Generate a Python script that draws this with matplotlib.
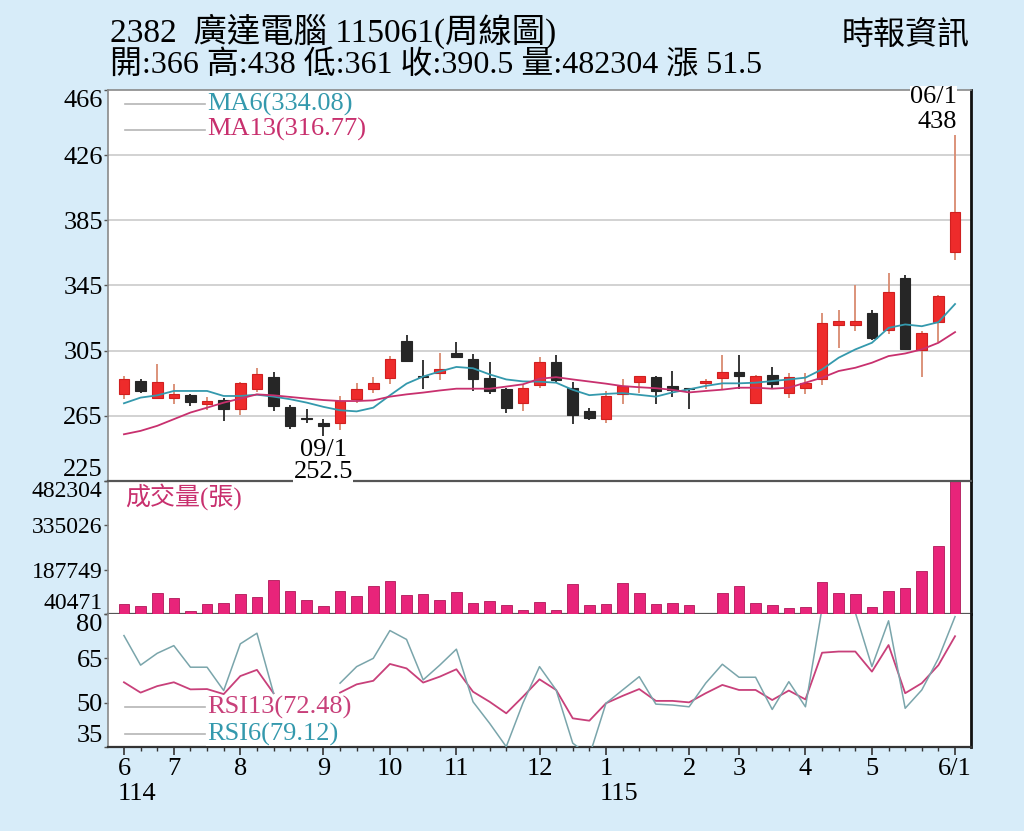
import numpy as np
import matplotlib
matplotlib.use("Agg")
import matplotlib.pyplot as plt
from matplotlib.transforms import blended_transform_factory

plt.rcParams['font.family'] = ['Liberation Serif', 'Noto Sans CJK TC', 'DejaVu Sans']

# ---------------- data ----------------
opens = [278.4, 286.6, 276.0, 276.0, 277.8, 272.7, 274.7, 269.6, 282.0, 289.1,
         270.9, 263.8, 261.0, 260.6, 275.8, 282.0, 288.7, 311.3, 290.0, 291.8,
         303.6, 300.4, 288.3, 281.5, 272.9, 284.0, 298.3, 282.5, 268.2, 263.0,
         278.4, 286.0, 289.3, 283.5, 282.0, 285.2, 288.7, 292.1, 272.9, 290.3,
         279.0, 282.5, 288.1, 320.9, 320.9, 328.7, 318.0, 350.2, 305.7, 322.9,
         366.0]
highs = [289.7, 287.6, 296.9, 284.6, 278.4, 276.6, 276.0, 286.0, 294.8, 292.1,
         271.7, 269.2, 263.0, 277.4, 285.6, 289.3, 302.0, 314.7, 299.5, 304.0,
         310.6, 303.0, 298.3, 282.5, 284.0, 301.6, 302.4, 286.0, 269.7, 280.4,
         288.1, 289.7, 289.7, 292.8, 282.5, 287.6, 302.4, 302.4, 290.3, 295.5,
         291.8, 291.8, 328.3, 330.7, 346.1, 330.7, 353.3, 352.2, 317.4, 339.5,
         438.0]
lows = [275.3, 279.5, 275.3, 272.3, 271.1, 268.6, 262.0, 265.5, 279.9, 268.2,
        257.3, 261.0, 252.5, 256.5, 273.3, 279.0, 284.8, 299.1, 281.9, 287.2,
        301.4, 280.5, 278.4, 266.7, 268.2, 282.5, 285.6, 260.0, 262.5, 261.0,
        272.3, 279.0, 272.3, 277.0, 269.2, 281.5, 281.9, 281.5, 272.5, 282.5,
        276.4, 278.4, 284.0, 307.1, 317.4, 311.7, 315.9, 305.7, 289.3, 310.6,
        361.0]
closes = [288.1, 280.3, 286.0, 278.4, 274.0, 274.3, 269.2, 285.6, 290.7, 271.2,
          258.9, 263.3, 259.0, 274.3, 281.5, 285.6, 300.4, 299.1, 289.3, 293.8,
          301.4, 287.6, 280.5, 270.3, 282.5, 298.3, 287.0, 265.7, 264.1, 277.4,
          283.5, 289.7, 280.5, 281.0, 281.5, 286.6, 292.1, 289.7, 289.7, 284.6,
          289.3, 285.6, 322.1, 323.5, 323.5, 312.9, 341.3, 306.5, 316.4, 339.0,
          390.5]
ma6 = [272.9, 276.4, 277.8, 280.5, 280.5, 280.5, 277.4, 277.4, 278.2, 277.0,
       275.4, 273.3, 270.7, 268.6, 267.9, 270.2, 277.8, 285.0, 289.4, 292.5,
       295.3, 294.5, 290.7, 287.6, 286.4, 286.2, 285.6, 281.2, 277.9, 278.7,
       279.2, 278.1, 277.0, 279.6, 281.5, 283.6, 285.2, 285.2, 285.6, 286.6,
       287.6, 288.7, 293.8, 301.0, 306.1, 310.2, 319.4, 321.5, 320.4, 322.9,
       334.08]
ma13 = [253.8, 255.9, 259.0, 263.1, 267.2, 270.2, 273.3, 275.8, 278.4, 277.8,
        276.8, 275.8, 274.9, 274.3, 274.3, 274.7, 277.0, 278.4, 279.5, 280.8,
        281.9, 281.9, 281.9, 283.2, 284.6, 288.0, 289.0, 287.6, 286.3, 285.0,
        283.5, 282.8, 282.2, 281.2, 279.6, 280.5, 281.3, 282.5, 282.5, 281.9,
        282.5, 285.6, 288.7, 292.8, 294.8, 297.9, 302.0, 303.6, 306.1, 310.2,
        316.77]
volumes = [72700, 68000, 111200, 94600, 50400, 72700, 76000, 106900, 96900, 153400,
           116900, 87000, 68000, 116900, 100300, 132500, 150100, 103600, 106900, 87000,
           112600, 76000, 82700, 71400, 53800, 80300, 53800, 139100, 69400, 74700,
           142500, 109200, 74700, 76000, 71400, 41500, 110200, 132500, 76000, 71400,
           60400, 64700, 147800, 111200, 106900, 63700, 115900, 127800, 184300, 266400,
           482304]
nan = float('nan')
rsi6 = [72.7, 62.7, 66.7, 69.3, 62.0, 62.0, 54.1, 69.9, 73.5, 53.2,
        nan, nan, nan, 56.6, 62.2, 65.0, 74.4, 71.4, 57.7, 62.7,
        68.1, 50.3, 43.0, 35.1, 49.8, 62.2, 54.3, 36.3, 32.0, 49.8,
        54.3, 58.8, 49.5, 49.2, 48.6, 56.6, 63.0, 58.6, 58.6, 47.7,
        57.1, 48.6, 82.0, 80.3, 80.5, 62.2, 77.7, 48.1, 54.3, 65.0,
        79.12]
rsi13 = [56.9, 53.4, 55.6, 56.9, 54.5, 54.6, 52.9, 59.0, 61.1, 53.2,
         nan, nan, nan, 53.4, 56.2, 57.4, 63.1, 61.6, 56.8, 58.8,
         61.3, 53.7, 50.3, 46.4, 52.0, 57.9, 54.3, 44.7, 43.9, 49.8,
         52.3, 54.6, 50.6, 50.6, 50.1, 53.2, 56.0, 54.3, 54.3, 50.9,
         54.1, 51.1, 66.9, 67.3, 67.3, 60.5, 69.5, 53.2, 56.6, 62.7,
         72.48]

month_pos = [0, 3, 7, 12, 16, 20, 25, 29, 34, 37, 41, 45, 50]
month_labels = ['6', '7', '8', '9', '10', '11', '12', '1', '2', '3', '4', '5', '6/1']
year_labels = [(0, '114'), (29, '115')]

price_ticks = [225, 265.17, 305.33, 345.5, 385.67, 425.83, 466]
price_tick_labels = ['225', '265', '305', '345', '385', '426', '466']
vol_ticks = [40471, 187749, 335026, 482304]
rsi_ticks = [35, 50, 65, 80]

title1 = "2382  廣達電腦 115061(周線圖)"
title2 = "開:366 高:438 低:361 收:390.5 量:482304 漲 51.5"
source = "時報資訊"

# ---------------- style ----------------
BG = '#d7ecf9'
RED = '#ee2b2b'
RED_WICK = '#d98a70'
BLACK = '#262626'
TEAL = '#3499ad'
MAG = '#c8306e'
VOLC = '#e8247a'
RSI6C = '#7aa5ab'
RSI13C = '#c8407a'
TICKFS = 19

W, H = 1024, 831
fig = plt.figure(figsize=(W / 100, H / 100), dpi=100, facecolor=BG)

def rect(top, bottom):
    return [108 / W, (H - bottom) / H, 863 / W, (bottom - top) / H]

ax_p = fig.add_axes(rect(90, 481))
ax_v = fig.add_axes(rect(481, 614), sharex=ax_p)
ax_r = fig.add_axes(rect(614, 747), sharex=ax_p)
ax_p.set_zorder(5)

x = np.arange(len(closes))
o = np.array(opens); c = np.array(closes)
hi = np.array(highs); lo = np.array(lows)
up = c >= o
dn = ~up

# candles
ax_p.vlines(x[up], lo[up], hi[up], color=RED_WICK, lw=1.3, zorder=2)
ax_p.vlines(x[dn], lo[dn], hi[dn], color=BLACK, lw=1.3, zorder=2)
bot = np.minimum(o, c)
hgt = np.maximum(np.abs(c - o), 0.6)
ax_p.bar(x[up], hgt[up], bottom=bot[up], width=0.64, color=RED,
         edgecolor='#d02020', lw=0.8, zorder=3)
ax_p.bar(x[dn], hgt[dn], bottom=bot[dn], width=0.64, color=BLACK,
         edgecolor=BLACK, lw=0.8, zorder=3)
ax_p.plot(x, ma6, color=TEAL, lw=1.3, zorder=4)
ax_p.plot(x, ma13, color=MAG, lw=1.3, zorder=4)

ax_p.set_xlim(-0.96, 50.96)
ax_p.set_ylim(225, 466)
ax_p.set_yticks(price_ticks)
ax_p.set_yticklabels(price_tick_labels)
for t in price_ticks[1:-1]:
    ax_p.axhline(t, color='#cfcfcf', lw=1.3, zorder=1)

# legend price
for yy, col, lab in [(0.964, TEAL, f"MA6({ma6[-1]:.2f})"), (0.898, MAG, f"MA13({ma13[-1]:.2f})")]:
    ax_p.plot([0.0197, 0.1124], [yy, yy], color='#b5b5b5', lw=1.2, transform=ax_p.transAxes)
    ax_p.text(0.1147, yy, lab, color=col, fontsize=19, va='center', ha='left',
              transform=ax_p.transAxes)

# annotations
ax_p.text(12, 244.2, "09/1", fontsize=19, ha='center', va='center', zorder=10)
ax_p.text(12, 230.8, f"{lows[12]:g}", fontsize=19, ha='center', va='center', zorder=10,
          clip_on=False, bbox=dict(facecolor='white', edgecolor='none', pad=0.1))
ax_p.text(50.1, 461.8, "06/1", fontsize=19, ha='right', va='center', zorder=10,
          clip_on=False, bbox=dict(facecolor='white', edgecolor='none', pad=0.1))
ax_p.text(50.1, 446.5, f"{highs[-1]:g}", fontsize=19, ha='right', va='center', zorder=10)

# volume
ax_v.bar(x, volumes, width=0.64, color=VOLC, edgecolor='#b01858', lw=0.6, zorder=3)
ax_v.set_ylim(vol_ticks[0], vol_ticks[-1])
ax_v.set_yticks(vol_ticks)
ax_v.set_yticklabels([str(v) for v in vol_ticks])
ax_v.text(0.0197, 0.88, "成交量(張)", color=MAG, fontsize=18, ha='left', va='center',
          transform=ax_v.transAxes)

# rsi
ax_r.plot(x, rsi13, color=RSI13C, lw=1.3, zorder=3)
ax_r.plot(x, rsi6, color=RSI6C, lw=1.1, zorder=3)
ax_r.set_ylim(35, 80)
ax_r.set_yticks(rsi_ticks)
ax_r.set_yticklabels([str(v) for v in rsi_ticks])
for yy, col, lab in [(0.30, RSI13C, f"RSI13({rsi13[-1]:.2f})"), (0.098, TEAL, f"RSI6({rsi6[-1]:.2f})")]:
    ax_r.plot([0.0197, 0.1124], [yy, yy], color='#b5b5b5', lw=1.2, transform=ax_r.transAxes, zorder=5)
    ax_r.text(0.1147, yy, lab, color=col, fontsize=19, va='center', ha='left',
              transform=ax_r.transAxes, zorder=6,
              bbox=dict(facecolor='white', edgecolor='none', pad=0.5))

ax_r.set_xticks(month_pos)
ax_r.set_xticklabels(month_labels)
ax_r.set_xticks(x, minor=True)
trans = blended_transform_factory(ax_r.transData, ax_r.transAxes)
for pos, lab in year_labels:
    ax_r.text(pos - 0.35, -0.35, lab, fontsize=TICKFS, ha='left', va='center', transform=trans)

# axes styling
for ax in (ax_p, ax_v, ax_r):
    ax.set_facecolor('white')
    ax.tick_params(axis='y', direction='out', length=3, width=1, color='#555555',
                   labelsize=TICKFS, pad=0.8)
    ax.spines['left'].set_color('#8a8a8a')
    ax.spines['left'].set_linewidth(1.2)
    ax.spines['right'].set_color('#111111')
    ax.spines['right'].set_linewidth(2.0)
    ax.spines['top'].set_color('#8a8a8a')
    ax.spines['top'].set_linewidth(1.2)
    ax.spines['bottom'].set_color('#555555')
    ax.spines['bottom'].set_linewidth(1.6)
for ax in (ax_v, ax_r):
    ax.spines['top'].set_visible(False)
ax_v.tick_params(axis='y', labelsize=17)
for ax in (ax_p, ax_v):
    ax.tick_params(axis='x', which='both', bottom=False, labelbottom=False)
ax_r.tick_params(axis='x', which='major', direction='out', length=6, width=1.2,
                 color='#333333', labelsize=TICKFS, pad=2)
ax_r.tick_params(axis='x', which='minor', direction='out', length=3, width=1, color='#333333')
ax_r.spines['bottom'].set_color('#333333')

# edge tick labels pulled inward
for ax in (ax_p, ax_v, ax_r):
    labs = ax.get_yticklabels()
    labs[0].set_va('bottom')
    labs[-1].set_va('top')

# titles
fig.text(110 / W, 1 - 31 / H, title1, fontsize=24, ha='left', va='center')
fig.text(110 / W, 1 - 66 / H, title2, fontsize=23, ha='left', va='center')
fig.text(970 / W, 1 - 36 / H, source, fontsize=23, ha='right', va='center')

fig.savefig('out.png', dpi=100, facecolor=BG)
